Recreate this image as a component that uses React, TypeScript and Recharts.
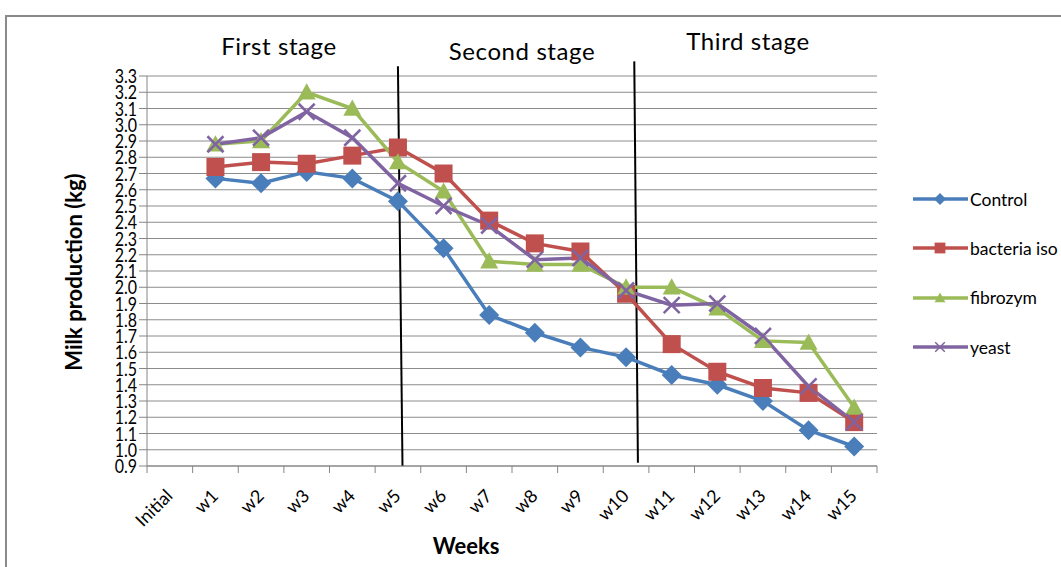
import React from 'react';
import { CartesianGrid, Line, LineChart, ReferenceLine, XAxis, YAxis } from 'recharts';

const weeks = ['Initial', 'w1', 'w2', 'w3', 'w4', 'w5', 'w6', 'w7', 'w8', 'w9', 'w10', 'w11', 'w12', 'w13', 'w14', 'w15'];

const control = [null, 2.67, 2.64, 2.71, 2.67, 2.53, 2.24, 1.83, 1.72, 1.63, 1.57, 1.46, 1.4, 1.3, 1.12, 1.02];
const bacteriaIso = [null, 2.74, 2.77, 2.76, 2.81, 2.86, 2.7, 2.41, 2.27, 2.22, 1.96, 1.65, 1.48, 1.38, 1.35, 1.17];
const fibrozym = [null, 2.88, 2.9, 3.2, 3.1, 2.77, 2.59, 2.16, 2.14, 2.14, 2.0, 2.0, 1.87, 1.67, 1.66, 1.26];
const yeast = [null, 2.88, 2.92, 3.08, 2.92, 2.64, 2.5, 2.38, 2.17, 2.18, 1.98, 1.89, 1.9, 1.7, 1.39, 1.17];

const yTicks = [0.9, 1.0, 1.1, 1.2, 1.3, 1.4, 1.5, 1.6, 1.7, 1.8, 1.9, 2.0, 2.1, 2.2, 2.3, 2.4, 2.5, 2.6, 2.7, 2.8, 2.9, 3.0, 3.1, 3.2, 3.3];

// hand drawn stage dividers, in data units (x = week index)
const stageBreaks = [
  { x1: 5.0, y1: 3.36, x2: 5.1, y2: 0.9 },
  { x1: 10.18, y1: 3.39, x2: 10.26, y2: 0.92 },
];

const series = [
  { key: 'control', name: 'Control', color: '#4A7EBB', shape: 'diamond' },
  { key: 'bacteria', name: 'bacteria iso', color: '#C0504D', shape: 'square' },
  { key: 'fibrozym', name: 'fibrozym', color: '#9BBB59', shape: 'triangle' },
  { key: 'yeast', name: 'yeast', color: '#8064A2', shape: 'cross' },
];

const data = weeks.map((week, i) => ({
  idx: i,
  week,
  control: control[i],
  bacteria: bacteriaIso[i],
  fibrozym: fibrozym[i],
  yeast: yeast[i],
}));

const FONT = 'Lato, "Open Sans", sans-serif';
const HALF_BAND = 730 / 16 / 2;

function Marker({ shape, cx, cy, color, s = 1 }: { shape: string; cx: number; cy: number; color: string; s?: number }) {
  if (shape === 'diamond') {
    const r = 10 * s;
    return <polygon points={`${cx},${cy - r} ${cx + r},${cy} ${cx},${cy + r} ${cx - r},${cy}`} fill={color} />;
  }
  if (shape === 'square') {
    const r = 9 * s;
    return <rect x={cx - r} y={cy - r} width={2 * r} height={2 * r} fill={color} />;
  }
  if (shape === 'triangle') {
    const r = 9 * s;
    return <polygon points={`${cx},${cy - r} ${cx + r},${cy + r * 0.8} ${cx - r},${cy + r * 0.8}`} fill={color} />;
  }
  const r = 8 * s;
  return (
    <g stroke={color} strokeWidth={2.5 * Math.max(s, 0.6)}>
      <line x1={cx - r} y1={cy - r} x2={cx + r} y2={cy + r} />
      <line x1={cx - r} y1={cy + r} x2={cx + r} y2={cy - r} />
    </g>
  );
}

const makeDot = (shape: string, color: string) => (props: any) => {
  const { cx, cy, index, value } = props;
  if (cx == null || cy == null || value == null) return <g key={`d-${index}`} />;
  return (
    <g key={`d-${index}`}>
      <Marker shape={shape} cx={cx} cy={cy} color={color} />
    </g>
  );
};

function XTick(props: any) {
  const { x, y, payload, index } = props;
  const label = weeks[payload.value];
  const tx = x + 4;
  const ty = y + 31;
  return (
    <g>
      <line x1={x - HALF_BAND} x2={x - HALF_BAND} y1={y} y2={y + 7} stroke="#868686" />
      {index === weeks.length - 1 && <line x1={x + HALF_BAND} x2={x + HALF_BAND} y1={y} y2={y + 7} stroke="#868686" />}
      <text x={tx} y={ty} textAnchor="end" fontSize={18} fill="#000" fontFamily={FONT} transform={`rotate(-45, ${tx}, ${ty})`}>
        {label}
      </text>
    </g>
  );
}

function YTick(props: any) {
  const { x, y, payload } = props;
  return (
    <text
      x={x}
      y={y}
      textAnchor="end"
      dominantBaseline="central"
      fontSize={16}
      fill="#000"
      fontFamily={FONT}
      transform={`translate(0, ${y}) scale(1, 1.2) translate(0, ${-y})`}
    >
      {Number(payload.value).toFixed(1)}
    </text>
  );
}

export default function App() {
  return (
    <div style={{ position: 'absolute', left: 0, top: 0, width: 1061, height: 567, background: '#fff', fontFamily: FONT, overflow: 'hidden' }}>
      <div style={{ position: 'absolute', left: 5, top: 15, width: 1100, height: 600, borderLeft: '2px solid #8a8a8a', borderTop: '2px solid #8a8a8a' }} />
      <div style={{ position: 'absolute', left: 0, top: 0 }}>
        <LineChart width={1061} height={567} data={data} margin={{ top: 76, right: 184, bottom: 31, left: 47 }}>
          <CartesianGrid vertical={false} stroke="#8c8c8c" strokeWidth={1} />
          <XAxis
            dataKey="idx"
            type="number"
            domain={[-0.5, 15.5]}
            ticks={weeks.map((_, i) => i)}
            interval={0}
            height={70}
            tickSize={0}
            tickMargin={0}
            tickLine={false}
            axisLine={{ stroke: '#868686' }}
            tick={<XTick />}
          />
          <YAxis
            type="number"
            domain={[0.9, 3.3]}
            ticks={yTicks}
            interval={0}
            width={100}
            tickSize={8}
            tickMargin={2}
            axisLine={{ stroke: '#868686' }}
            tickLine={{ stroke: '#868686' }}
            tick={<YTick />}
          />
          {stageBreaks.map((b, i) => (
            <ReferenceLine
              key={i}
              segment={[{ x: b.x1, y: b.y1 }, { x: b.x2, y: b.y2 }]}
              stroke="#000"
              strokeWidth={2}
              ifOverflow="visible"
            />
          ))}
          {series.map((s) => (
            <Line
              key={s.key}
              dataKey={s.key}
              name={s.name}
              stroke={s.color}
              strokeWidth={3.5}
              dot={makeDot(s.shape, s.color)}
              activeDot={false}
              isAnimationActive={false}
            />
          ))}
        </LineChart>
      </div>

      <div style={{ position: 'absolute', left: 279, top: 45, transform: 'translate(-50%, -50%)', fontSize: 24, letterSpacing: 0.6, whiteSpace: 'nowrap' }}>First stage</div>
      <div style={{ position: 'absolute', left: 522, top: 50, transform: 'translate(-50%, -50%)', fontSize: 24, letterSpacing: 0.6, whiteSpace: 'nowrap' }}>Second stage</div>
      <div style={{ position: 'absolute', left: 748, top: 40, transform: 'translate(-50%, -50%)', fontSize: 24, letterSpacing: 0.6, whiteSpace: 'nowrap' }}>Third stage</div>

      <div style={{ position: 'absolute', left: 73, top: 272, transform: 'translate(-50%, -50%) rotate(-90deg)', fontSize: 22, fontWeight: 700, whiteSpace: 'nowrap' }}>
        Milk production (kg)
      </div>
      <div style={{ position: 'absolute', left: 466, top: 545, transform: 'translate(-50%, -50%)', fontSize: 22, fontWeight: 700, whiteSpace: 'nowrap' }}>Weeks</div>

      <div style={{ position: 'absolute', left: 912, top: 174.5 }}>
        {series.map((s) => (
          <div key={s.key} style={{ display: 'flex', alignItems: 'center', height: 49.3, fontSize: 17.5 }}>
            <svg width={57} height={26} style={{ flex: 'none' }}>
              <line x1={1} x2={56} y1={13} y2={13} stroke={s.color} strokeWidth={3.5} />
              <Marker shape={s.shape} cx={28} cy={13} color={s.color} s={0.6} />
            </svg>
            <span style={{ marginLeft: 1 }}>{s.name}</span>
          </div>
        ))}
      </div>
    </div>
  );
}
